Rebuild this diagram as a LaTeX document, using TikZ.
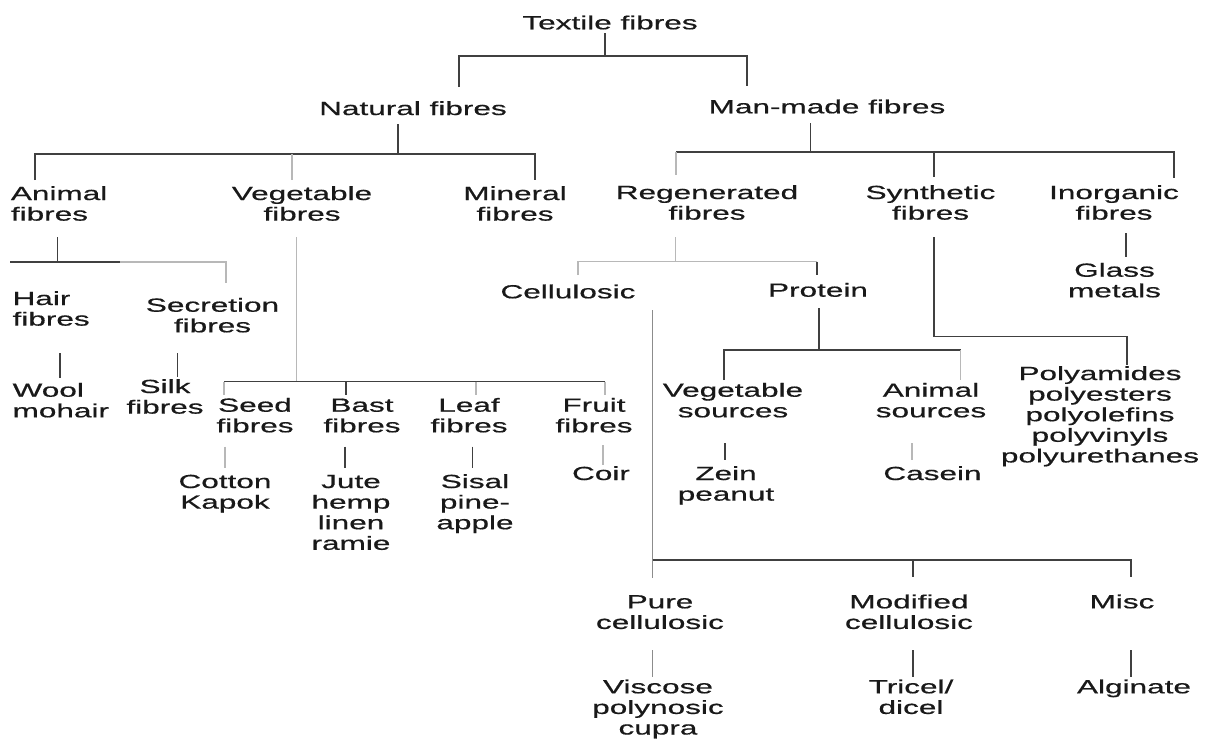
\documentclass[tikz,border=0pt]{standalone}
\usepackage{fontspec}
\setmainfont{Liberation Sans}[FakeStretch=1.66,FakeBold=0.6]
\usetikzlibrary{calc}
\newcommand\mlc[1]{\begin{tabular}[t]{@{}c@{}}#1\end{tabular}}
\newcommand\mll[1]{\begin{tabular}[t]{@{}l@{}}#1\end{tabular}}
\tikzset{
 lbl/.style={inner sep=0pt, anchor=base, font=\fontsize{19}{20.6}\selectfont, text=black!90},
 lbll/.style={lbl, anchor=base west},
 ln/.style={draw=black!75, line width=1.3pt},
 lnf/.style={draw=black!28, line width=1.2pt},
}
\begin{document}
\begin{tikzpicture}[x=1pt,y=-1pt]
\useasboundingbox (0,0) rectangle (1208,740);
% ---------- nodes ----------
\node[lbl] (tf) at (610,29.3) {Textile fibres};
\node[lbl] (nat) at (413,115) {Natural fibres};
\node[lbl] (mm) at (827,113.3) {Man-made fibres};
\node[lbll] (anf) at (10.7,200) {\mll{Animal\\fibres}};
\node[lbl] (vgf) at (302,200) {\mlc{Vegetable\\fibres}};
\node[lbl] (mnf) at (515,200) {\mlc{Mineral\\fibres}};
\node[lbl] (rgf) at (707,199) {\mlc{Regenerated\\fibres}};
\node[lbl] (syf) at (930.5,199) {\mlc{Synthetic\\fibres}};
\node[lbl] (inf) at (1114,199) {\mlc{Inorganic\\fibres}};
\node[lbll] (hair) at (12.4,305) {\mll{Hair\\fibres}};
\node[lbl] (secr) at (212.5,311.7) {\mlc{Secretion\\fibres}};
\node[lbll] (wool) at (12.4,396.7) {\mll{Wool\\mohair}};
\node[lbl] (silk) at (165,393) {\mlc{Silk\\fibres}};
\node[lbl] (seed) at (255,411.7) {\mlc{Seed\\fibres}};
\node[lbl] (bast) at (362,411.7) {\mlc{Bast\\fibres}};
\node[lbl] (leaf) at (469,411.7) {\mlc{Leaf\\fibres}};
\node[lbl] (fruit) at (594,411.7) {\mlc{Fruit\\fibres}};
\node[lbl] (cotton) at (225,488) {\mlc{Cotton\\Kapok}};
\node[lbl] (jute) at (351,488) {\mlc{Jute\\hemp\\linen\\ramie}};
\node[lbl] (sisal) at (475,488) {\mlc{Sisal\\pine-\\apple}};
\node[lbl] (coir) at (601,480) {Coir};
\node[lbl] (cellu) at (568,298.3) {Cellulosic};
\node[lbl] (prot) at (818,296.7) {Protein};
\node[lbl] (glass) at (1114.5,276.7) {\mlc{Glass\\metals}};
\node[lbl] (poly) at (1100,380) {\mlc{Polyamides\\polyesters\\polyolefins\\polyvinyls\\polyurethanes}};
\node[lbl] (vegs) at (733,396.7) {\mlc{Vegetable\\sources}};
\node[lbl] (anis) at (931,396.7) {\mlc{Animal\\sources}};
\node[lbl] (zein) at (726,480) {\mlc{Zein\\peanut}};
\node[lbl] (casein) at (932.5,480) {Casein};
\node[lbl] (pure) at (660,608.3) {\mlc{Pure\\cellulosic}};
\node[lbl] (modc) at (909,608.3) {\mlc{Modified\\cellulosic}};
\node[lbl] (misc) at (1122,608.3) {Misc};
\node[lbl] (visc) at (658,693.3) {\mlc{Viscose\\polynosic\\cupra}};
\node[lbl] (tricel) at (911,693.3) {\mlc{Tricel/\\dicel}};
\node[lbl] (algi) at (1134,693.3) {Alginate};
% ---------- junctions ----------
\coordinate (jtf) at (605,56);
\coordinate (jnat) at (398,154);
\coordinate (jmm) at (810.5,152);
\coordinate (janf) at (57.4,262);
\coordinate (jvgf) at (296.5,381.7);
\coordinate (jrgf) at (675.6,261.7);
\coordinate (jcel) at (652.5,560);
\coordinate (jprot) at (819,350);
% ---------- connectors ----------
% Textile fibres
\draw[ln] ($(605,0 |- tf.base)+(0,3.7)$) -- (jtf);
\draw[ln] ($(459,0 |- nat.base)+(0,-28)$) -- (459,56) -- (747,56) -- ($(747,0 |- mm.base)+(0,-27.3)$);
% Natural fibres
\draw[ln] ($(398,0 |- nat.base)+(0,9)$) -- (jnat);
\draw[ln] ($(35,0 |- anf.base)+(0,-20)$) -- (35,154) -- (535,154) -- ($(535,0 |- mnf.base)+(0,-20)$);
\draw[lnf] (292,154) -- ($(292,0 |- vgf.base)+(0,-20)$);
% Man-made fibres
\draw[ln] ($(810.5,0 |- mm.base)+(0,9.7)$) -- (jmm);
\draw[ln] (676,152) -- (1174,152) -- ($(1174,0 |- inf.base)+(0,-21)$);
\draw[lnf] (676,152) -- ($(676,0 |- rgf.base)+(0,-24)$);
\draw[ln] (934,152) -- ($(934,0 |- syf.base)+(0,-22)$);
% Animal fibres
\draw[ln] ($(57.4,0 |- anf.base)+(0,37)$) -- (janf);
\draw[ln] (10.4,262) -- (120,262);
\draw[lnf] (120,262) -- (226,262) -- ($(226,0 |- secr.base)+(0,-28.7)$);
% Hair / Secretion
\draw[ln] ($(60,0 |- hair.base)+(0,48)$) -- ($(60,0 |- wool.base)+(0,-18.7)$);
\draw[ln] ($(177.4,0 |- secr.base)+(0,41.3)$) -- ($(177.4,0 |- silk.base)+(0,-16.3)$);
% Vegetable fibres
\draw[lnf] ($(296.5,0 |- vgf.base)+(0,37)$) -- (jvgf);
\draw[ln] (224,381.7) -- (605,381.7);
\draw[lnf] (224,381.7) -- ($(224,0 |- seed.base)+(0,-16.7)$);
\draw[ln] (346,381.7) -- ($(346,0 |- bast.base)+(0,-16.7)$);
\draw[lnf] (476,381.7) -- ($(476,0 |- leaf.base)+(0,-16.7)$);
\draw[lnf] (605,381.7) -- ($(605,0 |- fruit.base)+(0,-16.7)$);
% Seed / Bast / Leaf / Fruit
\draw[lnf] ($(225,0 |- seed.base)+(0,35)$) -- ($(225,0 |- cotton.base)+(0,-20)$);
\draw[ln] ($(345,0 |- bast.base)+(0,35)$) -- ($(345,0 |- jute.base)+(0,-20)$);
\draw[ln] ($(472.7,0 |- leaf.base)+(0,35)$) -- ($(472.7,0 |- sisal.base)+(0,-20)$);
\draw[lnf] ($(603,0 |- fruit.base)+(0,33.3)$) -- ($(603,0 |- coir.base)+(0,-15)$);
% Regenerated fibres
\draw[lnf] ($(675.6,0 |- rgf.base)+(0,38)$) -- (jrgf);
\draw[lnf] ($(578,0 |- cellu.base)+(0,-23.3)$) -- (578,261.7) -- (817,261.7);
\draw[ln] (817,261.7) -- ($(817,0 |- prot.base)+(0,-21.7)$);
% Cellulosic
\draw[lnf, draw=black!45] ($(652.5,0 |- cellu.base)+(0,11.7)$) -- ($(652.5,0 |- pure.base)+(0,-30.3)$);
\draw[ln] (jcel) -- (1131,560) -- ($(1131,0 |- misc.base)+(0,-31.3)$);
\draw[ln] (913,560) -- ($(913,0 |- modc.base)+(0,-31.3)$);
% Protein
\draw[ln] ($(819,0 |- prot.base)+(0,11.3)$) -- (jprot);
\draw[ln] ($(724,0 |- vegs.base)+(0,-16.7)$) -- (724,350) -- (960.6,350);
\draw[lnf] (960.6,350) -- ($(960.6,0 |- anis.base)+(0,-16.7)$);
% Synthetic
\draw[ln] ($(934,0 |- syf.base)+(0,38)$) -- (934,336.7) -- (1127,336.7) -- ($(1127,0 |- poly.base)+(0,-15)$);
% Inorganic
\draw[ln] ($(1126,0 |- inf.base)+(0,34)$) -- ($(1126,0 |- glass.base)+(0,-20)$);
% Vegetable / Animal sources
\draw[ln] ($(725,0 |- vegs.base)+(0,46.3)$) -- ($(725,0 |- zein.base)+(0,-20)$);
\draw[lnf] ($(912,0 |- anis.base)+(0,46.3)$) -- ($(912,0 |- casein.base)+(0,-20)$);
% Pure / Modified / Misc
\draw[lnf, draw=black!45] ($(652.8,0 |- pure.base)+(0,41.7)$) -- ($(652.8,0 |- visc.base)+(0,-16.6)$);
\draw[ln] ($(913,0 |- modc.base)+(0,41.7)$) -- ($(913,0 |- tricel.base)+(0,-16.6)$);
\draw[ln] ($(1131,0 |- misc.base)+(0,41.7)$) -- ($(1131,0 |- algi.base)+(0,-16.6)$);
\end{tikzpicture}
\end{document}
